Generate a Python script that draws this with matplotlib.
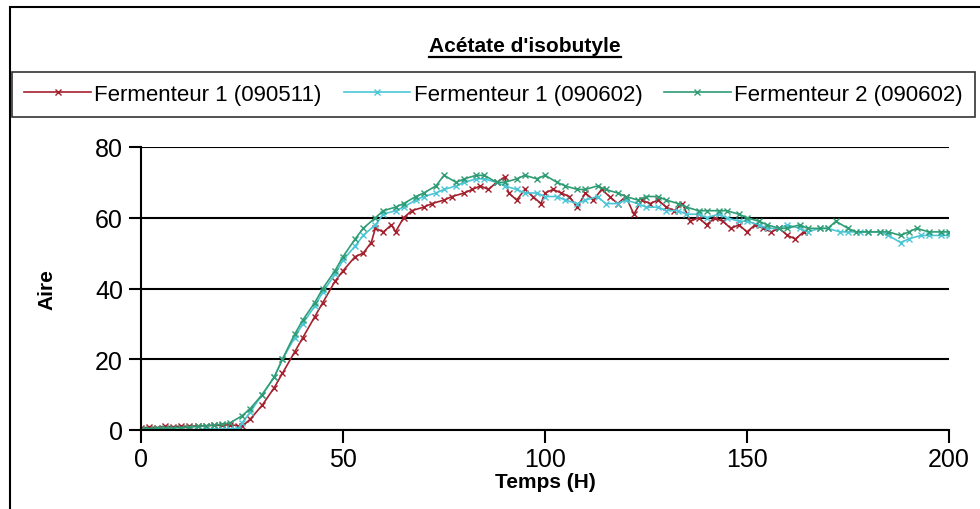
import matplotlib
matplotlib.use("Agg")
import matplotlib.pyplot as plt
from matplotlib.patches import Rectangle
from matplotlib.lines import Line2D
from matplotlib import font_manager

# -------------------- DATA --------------------
t_f1a = [0, 2, 4, 6, 8, 10, 12, 14, 16, 18, 20, 22, 24, 25, 27, 30, 33, 35, 38, 40,
         43, 45, 48, 50, 53, 55, 57, 58, 60, 62, 63, 65, 67, 70, 72, 75, 77, 80, 82,
         84, 86, 88, 90, 91, 93, 95, 97, 99, 100, 102, 104, 106, 108, 110, 112, 114,
         116, 118, 120, 122, 124, 126, 128, 130, 132, 134, 136, 138, 140, 142, 144,
         146, 148, 150, 152, 154, 156, 158, 160, 162, 164]
v_f1a = [0.5, 0.8, 0.7, 1.0, 0.9, 1.1, 1.0, 1.2, 1.1, 1.4, 1.3, 1.5, 1.2, 1.0, 3, 7,
         12, 16, 22, 26, 32, 36, 42, 45, 49, 50, 53, 57, 56, 58, 56, 60, 62, 63, 64,
         65, 66, 67, 68, 69, 68, 70, 71.5, 67, 65, 68, 66, 64, 67, 68, 67, 66, 63, 67,
         65, 68, 66, 64, 66, 61, 65, 64, 65, 63, 62, 64, 59, 60, 58, 60, 59, 57, 58,
         56, 58, 57, 56, 57, 55, 54, 56]

t_f1b = [0, 2, 4, 6, 8, 10, 12, 14, 16, 18, 20, 22, 24, 25, 27, 30, 33, 35, 38, 40,
         43, 45, 48, 50, 53, 55, 58, 60, 63, 65, 68, 70, 73, 75, 78, 80, 83, 85, 88,
         90, 93, 95, 98, 100, 103, 105, 108, 110, 113, 115, 118, 120, 123, 125, 128,
         130, 133, 135, 138, 140, 143, 145, 148, 150, 153, 155, 158, 160, 163, 165,
         168, 170, 173, 175, 178, 180, 183, 185, 188, 190, 193, 195, 198, 200]
v_f1b = [0.0, 0.1, 0.0, 0.2, 0.1, 0.0, 0.2, 0.1, 0.2, 0.3, 0.2, 0.3, 0.4, 2, 5, 10,
         15, 20, 26, 30, 35, 39, 44, 48, 52, 55, 58, 61, 62, 63, 65, 66, 67, 68, 69,
         70, 71, 71, 70, 69, 68, 67, 67, 66, 66, 65, 64, 65, 66, 64, 64, 65, 64, 63,
         63, 62, 62, 61, 61, 60, 61, 60, 59, 59, 58, 57, 57, 58, 57, 56, 57, 57, 56,
         56, 56, 56, 56, 55, 53, 54, 55, 55, 55, 55]

t_f2 = [0, 2, 4, 6, 8, 10, 12, 14, 16, 18, 20, 22, 25, 27, 30, 33, 35, 38, 40, 43,
        45, 48, 50, 53, 55, 58, 60, 63, 65, 68, 70, 73, 75, 78, 80, 83, 85, 88, 90,
        93, 95, 98, 100, 103, 105, 108, 110, 113, 115, 118, 120, 123, 125, 128, 130,
        133, 135, 138, 140, 143, 145, 148, 150, 153, 155, 158, 160, 163, 165, 168,
        170, 172, 175, 177, 180, 183, 185, 188, 190, 192, 195, 198, 200]
v_f2 = [0.3, 0.4, 0.5, 0.5, 0.6, 0.7, 0.8, 1.0, 1.2, 1.4, 1.6, 2.0, 4, 6, 10, 15,
        20, 27, 31, 36, 40, 45, 49, 54, 57, 60, 62, 63, 64, 66, 67, 69, 72, 70, 71,
        72, 72, 70, 70, 71, 72, 71, 72, 70, 69, 68, 68, 69, 68, 67, 66, 65, 66, 66,
        65, 64, 63, 62, 62, 62, 62, 61, 60, 59, 58, 57, 57, 58, 57, 57, 57, 59, 57,
        56, 56, 56, 56, 55, 56, 57, 56, 56, 56]

labels = ["Fermenteur 1 (090511)", "Fermenteur 1 (090602)", "Fermenteur 2 (090602)"]
colors = ["#a3202c", "#4cc6d6", "#2f9c74"]

x_ticks = [0, 50, 100, 150, 200]
y_ticks = [0, 20, 40, 60, 80]

# -------------------- FONT --------------------
names = {f.name for f in font_manager.fontManager.ttflist}
fam = "Liberation Sans Narrow" if "Liberation Sans Narrow" in names else "Liberation Sans"
plt.rcParams["font.family"] = [fam, "DejaVu Sans"]

# -------------------- FIGURE --------------------
fig = plt.figure(figsize=(9.8, 5.1), dpi=100)
ax = fig.add_axes([141 / 980, 1 - 431 / 510, 808 / 980, 283 / 510])

series = [(t_f1a, v_f1a), (t_f1b, v_f1b), (t_f2, v_f2)]
for (t, v), lab, c in zip(series, labels, colors):
    ax.plot(t, v, color=c, lw=1.2, marker="x", ms=5, mew=1.0, label=lab)

ax.set_xlim(0, 200)
ax.set_ylim(0, 80)
ax.set_xticks(x_ticks)
ax.set_yticks(y_ticks)
ax.tick_params(axis="both", labelsize=18, direction="out", length=9, width=1.5, color="black")
ax.tick_params(axis="x", pad=3)
ax.tick_params(axis="y", pad=4)
ax.grid(axis="y", color="black", lw=1.5)
ax.set_axisbelow(True)
for s in ["top", "right"]:
    ax.spines[s].set_visible(False)
ax.spines["left"].set_linewidth(1.5)
ax.spines["bottom"].set_linewidth(1.5)
ax.margins(0)

ax.set_xlabel("Temps (H)", fontsize=15, fontweight="bold", labelpad=1)
ax.set_ylabel("Aire", fontsize=15, fontweight="bold", labelpad=28)

# -------------------- LEGEND --------------------
leg = fig.legend(loc="lower left", bbox_to_anchor=(12 / 980, 1 - 118 / 510, 963 / 980, 45 / 510),
                 mode="expand", ncol=3, fontsize=16, frameon=True, fancybox=False,
                 edgecolor="black", handlelength=3.0, handletextpad=0.15, borderaxespad=0,
                 borderpad=0.55)
leg.get_frame().set_linewidth(1.2)

# -------------------- TITLE --------------------
title = fig.text(525 / 980, 1 - 47 / 510, "Acétate d'isobutyle", fontsize=15,
                 fontweight="bold", ha="center", va="center")
fig.canvas.draw()
bb = title.get_window_extent().transformed(fig.transFigure.inverted())
fig.add_artist(Line2D([bb.x0, bb.x1], [bb.y0 - 0.002, bb.y0 - 0.002], color="black",
                      lw=1.6, transform=fig.transFigure))

# outer frame
fig.add_artist(Rectangle((10 / 980, -0.1), 1.0, 1.1 - 8 / 510, fill=False, edgecolor="black",
                         lw=1.5, transform=fig.transFigure, clip_on=False))

fig.savefig("out.png", dpi=100)
